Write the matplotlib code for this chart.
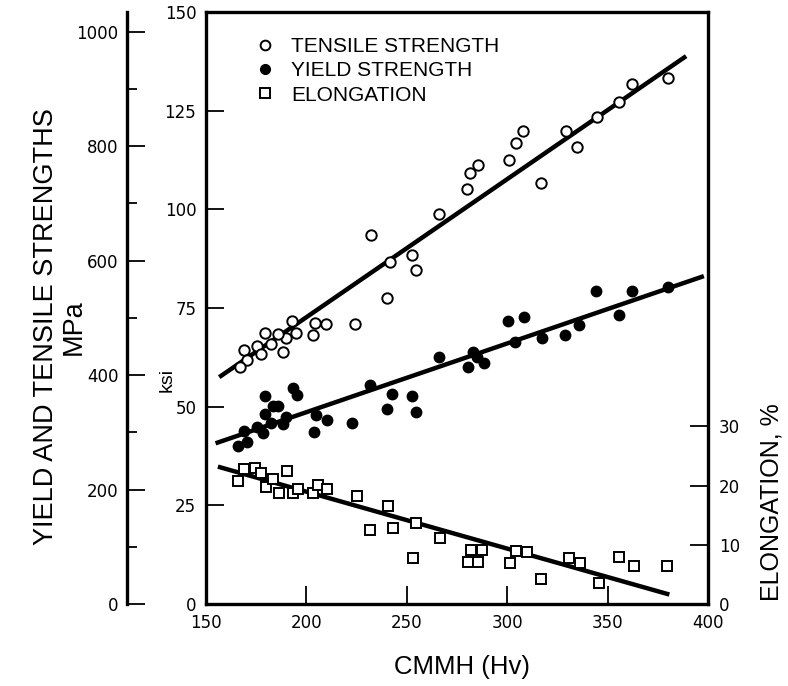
import matplotlib
matplotlib.use('Agg')
import matplotlib.pyplot as plt
from matplotlib.lines import Line2D
from matplotlib.ticker import MultipleLocator

plt.rcParams['font.family'] = ['Liberation Sans', 'DejaVu Sans']

# ---- data ----
tensile_x = [232.0, 241.6, 252.4, 254.4, 240.0, 224.2, 209.6, 204.3, 203.1, 192.7,
             194.7, 189.7, 188.5, 185.7, 179.4, 182.4, 175.2, 177.4, 169.1, 170.6,
             166.9, 380.2, 362.3, 355.7, 344.6, 329.1, 334.6, 317.0, 307.7, 304.2,
             301.0, 285.3, 281.5, 280.2, 266.0]
tensile_y = [93.5, 86.7, 88.5, 84.6, 77.6, 70.9, 70.9, 71.3, 68.1, 71.7,
             68.7, 67.3, 63.9, 68.4, 68.7, 66.0, 65.4, 63.4, 64.4, 61.8,
             60.0, 133.2, 131.7, 127.2, 123.3, 119.8, 115.7, 106.6, 119.8, 116.7,
             112.5, 111.2, 109.3, 105.1, 98.8]

yield_x = [266.2, 231.7, 242.8, 252.4, 240.0, 254.4, 222.6, 210.1, 204.6, 203.8,
           193.2, 195.2, 179.4, 183.5, 186.0, 179.4, 189.8, 188.5, 182.2, 175.2,
           178.2, 169.1, 170.6, 166.1, 280.3, 282.8, 285.1, 288.6, 300.2, 308.5,
           303.9, 317.2, 328.8, 336.0, 344.1, 355.8, 362.0, 380.2]
yield_y = [62.5, 55.5, 53.2, 52.7, 49.5, 48.7, 45.9, 46.6, 47.9, 43.5,
           54.8, 53.0, 52.7, 50.2, 50.2, 48.1, 47.5, 45.6, 45.8, 44.8,
           43.4, 43.9, 41.1, 40.0, 60.1, 63.9, 62.7, 61.0, 71.7, 72.6,
           66.4, 67.5, 68.1, 70.6, 79.4, 73.3, 79.4, 80.2]

elong_x = [166.1, 169.1, 174.4, 177.2, 179.7, 183.5, 186.5, 190.5, 193.2, 195.7,
           203.1, 205.6, 210.1, 225.0, 231.7, 240.8, 243.0, 254.6, 252.9, 266.5,
           281.8, 287.3, 280.3, 285.3, 301.4, 304.2, 309.7, 316.7, 330.8, 336.3,
           345.9, 355.7, 363.3, 379.4]
elong_y = [20.8, 22.8, 22.9, 22.2, 19.8, 21.1, 18.7, 22.5, 18.7, 19.4,
           18.8, 20.1, 19.4, 18.2, 12.5, 16.6, 12.8, 13.7, 7.7, 11.1,
           9.2, 9.2, 7.1, 7.1, 6.9, 9.0, 8.8, 4.3, 7.7, 7.0,
           3.5, 7.9, 6.5, 6.5]

tensile_fit_x = [157.5, 388.2]
tensile_fit_y = [57.8, 138.5]
yield_fit_x = [155.8, 396.9]
yield_fit_y = [40.9, 82.9]
elong_fit_x = [157.0, 379.7]
elong_fit_y = [23.1, 1.7]

x_ticks = [150, 200, 250, 300, 350, 400]
ksi_ticks = [0, 25, 50, 75, 100, 125, 150]
elong_ticks = [0, 10, 20, 30]
mpa_ticks = [0, 200, 400, 600, 800, 1000]

KSI_TO_MPA = 6.894757
TICK_FONT = {'family': 'DejaVu Sans', 'size': 12}

# ---- figure ----
fig = plt.figure(figsize=(7.88, 6.86), dpi=100)
ax = fig.add_axes([206/788, 82/686, 502/788, 592/686])
ax.set_xlim(150, 400)
ax.set_ylim(0, 150)
ax.set_xticks(x_ticks)
ax.set_yticks(ksi_ticks)
ax.tick_params(direction='in', length=13, width=1.3, pad=7)
ax.tick_params(axis='x', pad=7)
for s in ax.spines.values():
    s.set_linewidth(2.4)

ax2 = ax.twinx()
ax2.set_ylim(0, 100)
ax2.set_yticks(elong_ticks)
ax2.tick_params(direction='in', length=13, width=1.3, pad=8)
for s in ax2.spines.values():
    s.set_visible(False)

ax3 = ax.twinx()
ax3.set_ylim(0, 150 * KSI_TO_MPA)
for name, s in ax3.spines.items():
    s.set_visible(name == 'left')
ax3.spines['left'].set_position(('axes', (127 - 206) / 502))
ax3.spines['left'].set_linewidth(2.4)
ax3.yaxis.set_ticks_position('left')
ax3.set_yticks(mpa_ticks)
ax3.yaxis.set_minor_locator(MultipleLocator(100))
ax3.tick_params(which='major', direction='in', length=13, width=1.3, pad=6)
ax3.tick_params(which='minor', direction='in', length=7, width=1.3)
ax3.patch.set_visible(False)

for a in (ax, ax2, ax3):
    for lab in a.get_xticklabels() + a.get_yticklabels():
        lab.set_fontfamily(TICK_FONT['family'])
        lab.set_fontsize(TICK_FONT['size'])

# points and fit lines
ax.plot(tensile_fit_x, tensile_fit_y, color='black', lw=3.2, zorder=2)
ax.plot(yield_fit_x, yield_fit_y, color='black', lw=3.2, zorder=2)
ax.plot(tensile_x, tensile_y, 'o', ms=7.5, mfc='white', mec='black', mew=1.4, zorder=3)
ax.plot(yield_x, yield_y, 'o', ms=7.5, mfc='black', mec='black', mew=1.0, zorder=3)
ax2.plot(elong_fit_x, elong_fit_y, color='black', lw=3.2, zorder=2)
ax2.plot(elong_x, elong_y, 's', ms=7.5, mfc='white', mec='black', mew=1.4, zorder=3)

handles = [
    Line2D([], [], ls='none', marker='o', ms=7, mfc='white', mec='black', mew=1.4),
    Line2D([], [], ls='none', marker='o', ms=7, mfc='black', mec='black'),
    Line2D([], [], ls='none', marker='s', ms=7, mfc='white', mec='black', mew=1.4),
]
labels = ['TENSILE STRENGTH', 'YIELD STRENGTH', 'ELONGATION']
ax2.legend(handles, labels, loc='upper left', bbox_to_anchor=(0.0976, 0.958),
           frameon=False, fontsize=15, handlelength=1.0, handletextpad=0.72,
           labelspacing=0.26, borderpad=0, borderaxespad=0)

# labels
fig.text(60/788, 1 - 327/686, 'YIELD AND TENSILE STRENGTHS\nMPa', rotation=90,
         ha='center', va='center', multialignment='center', fontsize=19.5, linespacing=1.05)
fig.text(167/788, 1 - 380/686, 'ksi', rotation=90, ha='center', va='center', fontsize=14)
fig.text(462/788, 1 - 667/686, 'CMMH (Hv)', ha='center', va='center', fontsize=18.5)
fig.text(772/788, 1 - 502/686, 'ELONGATION, %', rotation=90, ha='center', va='center', fontsize=18)

fig.savefig('out.png', dpi=100)
